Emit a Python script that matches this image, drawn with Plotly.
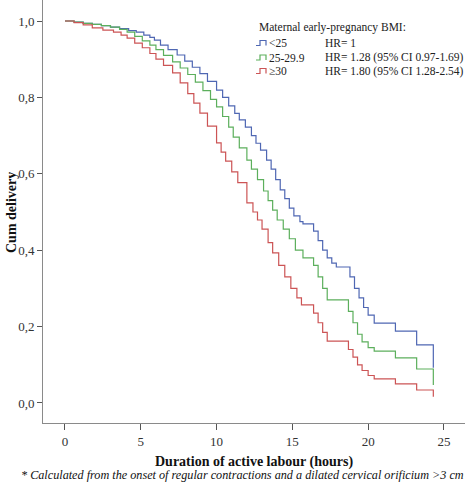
import plotly.graph_objects as go

# ---- data ----
groups = ["<25", "25-29.9", "≥30"]
hr_labels = ["HR= 1", "HR= 1.28 (95% CI 0.97-1.69)", "HR= 1.80 (95% CI 1.28-2.54)"]

blue_time = [0, 0.6, 1.2, 1.8, 2.4, 3.0, 3.6, 4.2, 4.7, 5.2, 5.6, 5.9, 6.3, 6.8, 7.4, 7.9, 8.4, 8.9,
             9.4, 10.0, 10.4, 10.8, 11.2, 11.5, 11.9, 12.3, 12.6, 12.9, 13.3, 13.6, 13.9, 14.2, 14.5,
             14.8, 15.1, 15.5, 15.7, 16.4, 16.7, 17.0, 17.3, 17.6, 17.9, 18.8, 19.1, 19.4, 19.7,
             20.0, 20.4, 21.8, 23.2, 24.3]
blue_surv = [1.0, 0.997, 0.994, 0.991, 0.988, 0.984, 0.980, 0.975, 0.971, 0.963, 0.957, 0.950, 0.937,
             0.925, 0.911, 0.895, 0.879, 0.862, 0.842, 0.819, 0.800, 0.778, 0.758, 0.741, 0.722, 0.700,
             0.680, 0.662, 0.636, 0.612, 0.585, 0.558, 0.535, 0.510, 0.490, 0.475, 0.469, 0.450, 0.425,
             0.400, 0.380, 0.366, 0.356, 0.330, 0.300, 0.275, 0.250, 0.230, 0.209, 0.188, 0.152, 0.092]

green_time = [0, 0.6, 1.2, 1.8, 2.4, 3.0, 3.6, 4.1, 4.6, 5.1, 5.6, 6.0, 6.5, 7.1, 7.6, 8.1, 8.6, 9.1,
              9.6, 10.0, 10.4, 10.8, 11.1, 11.5, 12.0, 12.3, 12.7, 13.1, 13.4, 13.7, 14.0, 14.4, 14.8,
              15.2, 15.7, 16.4, 16.7, 17.0, 17.3, 18.7, 19.0, 19.3, 19.6, 20.0, 20.4, 21.8, 23.2, 24.3]
green_surv = [1.0, 0.997, 0.994, 0.991, 0.988, 0.984, 0.978, 0.971, 0.960, 0.948, 0.937, 0.925, 0.910,
              0.893, 0.877, 0.860, 0.840, 0.818, 0.795, 0.775, 0.750, 0.722, 0.696, 0.668, 0.636, 0.612,
              0.585, 0.555, 0.530, 0.505, 0.479, 0.455, 0.430, 0.400, 0.380, 0.360, 0.330, 0.300, 0.270,
              0.240, 0.210, 0.180, 0.160, 0.145, 0.136, 0.118, 0.089, 0.047]

red_time = [0, 0.6, 1.2, 1.8, 2.5, 3.2, 3.7, 4.1, 4.6, 5.1, 5.6, 6.0, 6.5, 7.1, 7.6, 8.1, 8.5, 8.9,
            9.4, 10.0, 10.3, 10.6, 11.0, 11.4, 12.0, 12.4, 12.7, 13.0, 13.4, 13.7, 14.1, 14.5, 14.9,
            15.3, 15.6, 16.4, 16.7, 17.0, 17.3, 18.7, 19.0, 19.3, 19.6, 20.0, 20.4, 21.8, 23.2, 24.3]
red_surv = [1.0, 0.996, 0.990, 0.982, 0.976, 0.971, 0.963, 0.955, 0.942, 0.930, 0.915, 0.900, 0.884,
            0.864, 0.838, 0.810, 0.785, 0.759, 0.725, 0.681, 0.657, 0.633, 0.605, 0.577, 0.524, 0.500,
            0.479, 0.455, 0.420, 0.393, 0.360, 0.330, 0.300, 0.275, 0.257, 0.235, 0.210, 0.185, 0.162,
            0.140, 0.120, 0.100, 0.085, 0.072, 0.063, 0.050, 0.034, 0.016]

x_ticks = [0, 5, 10, 15, 20, 25]
y_ticks = [0.0, 0.2, 0.4, 0.6, 0.8, 1.0]

colors = ["#4f67b3", "#5caf5c", "#cc5455"]
series = [(blue_time, blue_surv), (green_time, green_surv), (red_time, red_surv)]

FONT = "Liberation Serif"
TXT = "#222222"
AX = "#8a8a8a"

fig = go.Figure()
for (t, s), c, g in zip(series, colors, groups):
    fig.add_trace(go.Scatter(x=t, y=s, mode="lines", line=dict(color=c, width=1.2, shape="hv"),
                             name=g, showlegend=False, hoverinfo="skip"))

W, H = 472, 487
L, R, T, B = 43, 7, 0, 64
pw, ph = W - L - R, H - T - B


def px(x):
    return (x - L) / pw


def py(y):
    return (H - B - y) / ph


annotations = []
shapes = []
LEG = 11.5
annotations.append(dict(x=px(257), y=py(28), xref="paper", yref="paper", xanchor="left", yanchor="middle",
                        text="Maternal early-pregnancy BMI:", showarrow=False,
                        font=dict(family=FONT, size=LEG, color=TXT)))
row_y = [43, 57.5, 71]
for i, (g, hr, c) in enumerate(zip(groups, hr_labels, colors)):
    yy = row_y[i]
    # step glyph
    path = (f"M {px(256)},{py(yy+2.5)} L {px(260)},{py(yy+2.5)} L {px(260)},{py(yy-2.5)} "
            f"L {px(266)},{py(yy-2.5)} L {px(266)},{py(yy+2.5)}")
    shapes.append(dict(type="path", xref="paper", yref="paper", path=path,
                       line=dict(color=c, width=1.2)))
    annotations.append(dict(x=px(267), y=py(yy), xref="paper", yref="paper", xanchor="left",
                            yanchor="middle", text=g, showarrow=False,
                            font=dict(family=FONT, size=LEG, color=TXT)))
    annotations.append(dict(x=px(323), y=py(yy), xref="paper", yref="paper", xanchor="left",
                            yanchor="middle", text=hr, showarrow=False,
                            font=dict(family=FONT, size=LEG, color=TXT)))

annotations.append(dict(x=px(254), y=py(462), xref="paper", yref="paper", xanchor="center",
                        yanchor="middle", text="<b>Duration of active labour (hours)</b>", showarrow=False,
                        font=dict(family=FONT, size=14, color="#111111")))
annotations.append(dict(x=px(242), y=py(475), xref="paper", yref="paper", xanchor="center",
                        yanchor="middle",
                        text="<i>* Calculated from the onset of regular contractions and a dilated cervical orificium &gt;3 cm</i>",
                        showarrow=False, font=dict(family=FONT, size=12.2, color="#111111")))
annotations.append(dict(x=px(12), y=py(213), xref="paper", yref="paper", xanchor="center",
                        yanchor="middle", text="<b>Cum delivery</b>", textangle=-90, showarrow=False,
                        font=dict(family=FONT, size=14, color="#111111")))

fig.update_layout(
    width=W, height=H,
    margin=dict(l=L, r=R, t=T, b=B, pad=0, autoexpand=False),
    paper_bgcolor="white", plot_bgcolor="white",
    separators=", ",
    annotations=annotations, shapes=shapes,
    showlegend=False,
)
fig.update_xaxes(range=[-1.451, 26.39], tickvals=x_ticks, ticktext=[str(v) for v in x_ticks],
                 automargin=False,
                 showgrid=False, zeroline=False, showline=True, linecolor=AX, linewidth=1,
                 ticks="outside", ticklen=6, tickcolor="#555555", tickwidth=1,
                 tickfont=dict(family=FONT, size=13, color="#333333"))
fig.update_yaxes(range=[-0.0524, 1.055], tickvals=y_ticks, tickformat=".1f",
                 automargin=False,
                 showgrid=False, zeroline=False, showline=True, linecolor=AX, linewidth=1,
                 ticks="outside", ticklen=5, tickcolor="#555555", tickwidth=1,
                 tickfont=dict(family=FONT, size=13, color="#333333"))

fig.write_html("out.html", config={"displayModeBar": False},
               post_script="document.body.style.margin='0';document.body.style.padding='0';")
